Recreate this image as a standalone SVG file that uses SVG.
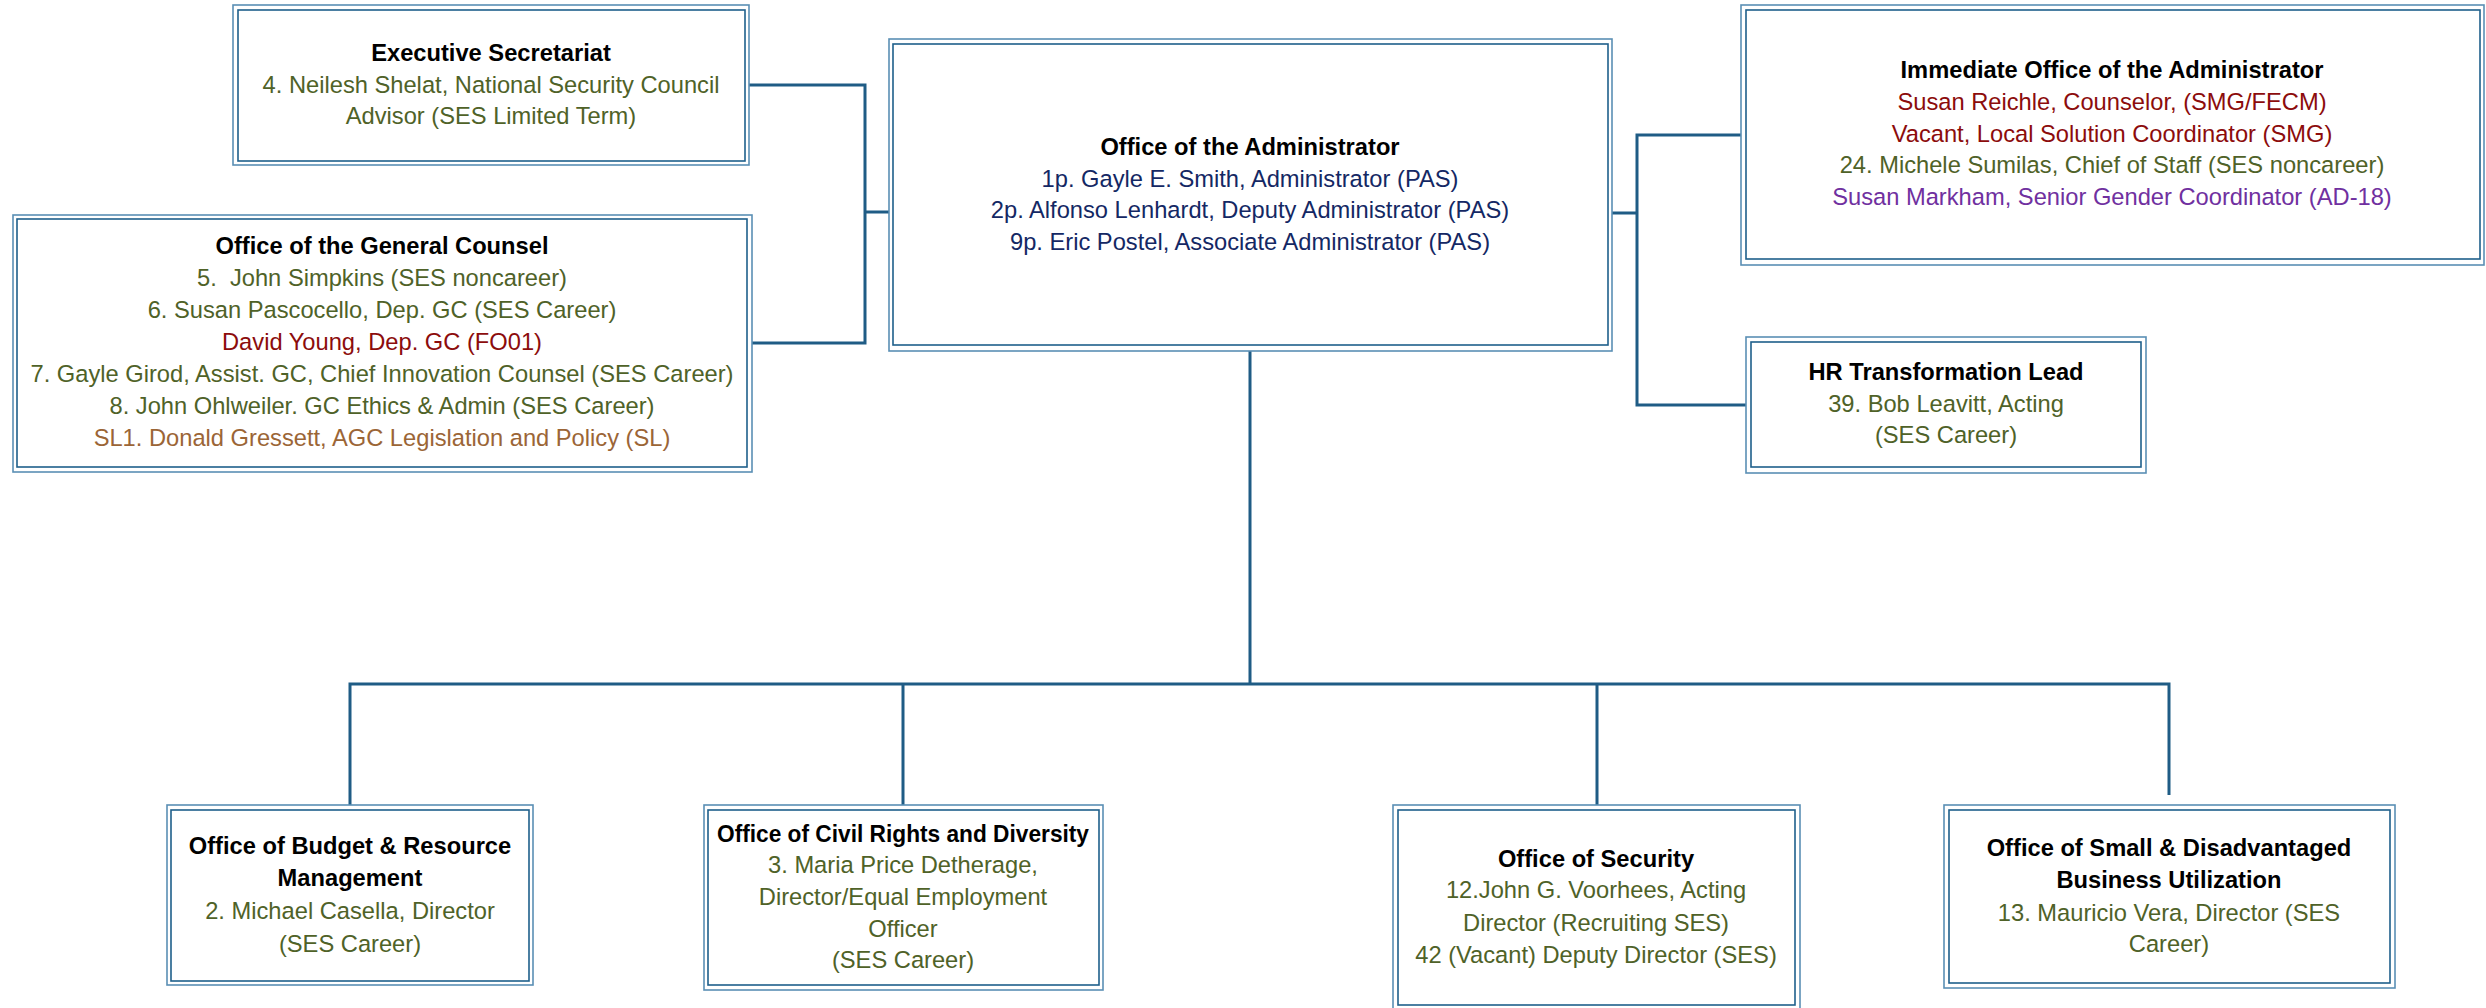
<svg xmlns="http://www.w3.org/2000/svg" width="2486" height="1008" viewBox="0 0 2486 1008">
<style>
text{font-family:"Liberation Sans",Arial,sans-serif;font-size:23.7px;text-anchor:middle}
.t{font-weight:bold;fill:#000}
.g{fill:#4F6228}
.r{fill:#8C0C0C}
.b{fill:#9B6536}
.n{fill:#142864}
.p{fill:#7030A0}
.o{fill:#fff;stroke:#5A8FB5;stroke-width:1.6}
.i{fill:none;stroke:#1F5F8B;stroke-width:1.6}
.c{fill:none;stroke:#1F5C85;stroke-width:3}
</style>
<rect width="2486" height="1008" fill="#fff"/>
<g id="connectors">
<path class="c" d="M749 85 H865 V343 H752 M865 212 H889"/>
<path class="c" d="M1612 213 H1637 M1741 135 H1637 V405 H1746"/>
<path class="c" d="M1250 351 V684 M350 805 V684 H2169 V795 M903 684 V805 M1597 684 V805"/>
</g>
<g id="exec-secretariat">
<rect class="o" x="233" y="5" width="516" height="160"/>
<rect class="i" x="238" y="10" width="507" height="151"/>
<text class="t" x="491" y="61">Executive Secretariat</text>
<text class="g" x="491" y="93">4. Neilesh Shelat, National Security Council</text>
<text class="g" x="491" y="124">Advisor (SES Limited Term)</text>
</g>
<g id="general-counsel">
<rect class="o" x="13" y="215" width="739" height="257"/>
<rect class="i" x="17" y="219" width="730" height="248"/>
<text class="t" x="382" y="254">Office of the General Counsel</text>
<text class="g" x="382" y="286" xml:space="preserve">5.  John Simpkins (SES noncareer)</text>
<text class="g" x="382" y="318">6. Susan Pascocello, Dep. GC (SES Career)</text>
<text class="r" x="382" y="350">David Young, Dep. GC (FO01)</text>
<text class="g" x="382" y="382">7. Gayle Girod, Assist. GC, Chief Innovation Counsel (SES Career)</text>
<text class="g" x="382" y="414">8. John Ohlweiler. GC Ethics &amp; Admin (SES Career)</text>
<text class="b" x="382" y="446">SL1. Donald Gressett, AGC Legislation and Policy (SL)</text>
</g>
<g id="office-administrator">
<rect class="o" x="889" y="39" width="723" height="312"/>
<rect class="i" x="893" y="44" width="715" height="301"/>
<text class="t" x="1250" y="155">Office of the Administrator</text>
<text class="n" x="1250" y="187">1p. Gayle E. Smith, Administrator (PAS)</text>
<text class="n" x="1250" y="218">2p. Alfonso Lenhardt, Deputy Administrator (PAS)</text>
<text class="n" x="1250" y="250">9p. Eric Postel, Associate Administrator (PAS)</text>
</g>
<g id="immediate-office">
<rect class="o" x="1741" y="5" width="743" height="260"/>
<rect class="i" x="1746" y="10" width="734" height="249"/>
<text class="t" x="2112" y="78">Immediate Office of the Administrator</text>
<text class="r" x="2112" y="110">Susan Reichle, Counselor, (SMG/FECM)</text>
<text class="r" x="2112" y="142">Vacant, Local Solution Coordinator (SMG)</text>
<text class="g" x="2112" y="173">24. Michele Sumilas, Chief of Staff (SES noncareer)</text>
<text class="p" x="2112" y="205">Susan Markham, Senior Gender Coordinator (AD-18)</text>
</g>
<g id="hr-transformation">
<rect class="o" x="1746" y="337" width="400" height="136"/>
<rect class="i" x="1751" y="342" width="390" height="125"/>
<text class="t" x="1946" y="380">HR Transformation Lead</text>
<text class="g" x="1946" y="412">39. Bob Leavitt, Acting</text>
<text class="g" x="1946" y="443">(SES Career)</text>
</g>
<g id="budget-resource">
<rect class="o" x="167" y="805" width="366" height="180"/>
<rect class="i" x="171" y="810" width="358" height="171"/>
<text class="t" x="350" y="854">Office of Budget &amp; Resource</text>
<text class="t" x="350" y="886">Management</text>
<text class="g" x="350" y="919">2. Michael Casella, Director</text>
<text class="g" x="350" y="952">(SES Career)</text>
</g>
<g id="civil-rights">
<rect class="o" x="704" y="805" width="399" height="185"/>
<rect class="i" x="708" y="810" width="391" height="175"/>
<text class="t" x="903" y="842" textLength="372" lengthAdjust="spacingAndGlyphs">Office of Civil Rights and Diversity</text>
<text class="g" x="903" y="873">3. Maria Price Detherage,</text>
<text class="g" x="903" y="905">Director/Equal Employment</text>
<text class="g" x="903" y="937">Officer</text>
<text class="g" x="903" y="968">(SES Career)</text>
</g>
<g id="security">
<rect class="o" x="1393" y="805" width="407" height="210"/>
<rect class="i" x="1398" y="810" width="397" height="195"/>
<text class="t" x="1596" y="867">Office of Security</text>
<text class="g" x="1596" y="898">12.John G. Voorhees, Acting</text>
<text class="g" x="1596" y="931">Director (Recruiting SES)</text>
<text class="g" x="1596" y="963">42 (Vacant) Deputy Director (SES)</text>
</g>
<g id="small-business">
<rect class="o" x="1944" y="805" width="451" height="183"/>
<rect class="i" x="1949" y="810" width="441" height="173"/>
<text class="t" x="2169" y="856">Office of Small &amp; Disadvantaged</text>
<text class="t" x="2169" y="888">Business Utilization</text>
<text class="g" x="2169" y="921">13. Mauricio Vera, Director (SES</text>
<text class="g" x="2169" y="952">Career)</text>
</g>
</svg>
